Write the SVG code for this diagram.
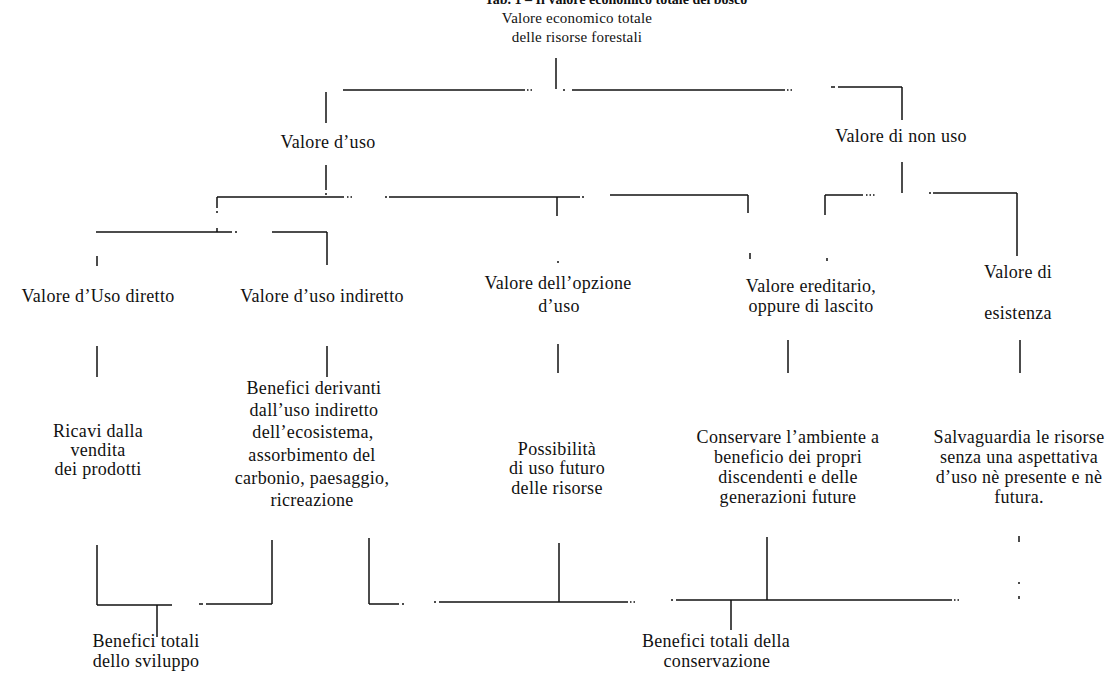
<svg xmlns="http://www.w3.org/2000/svg" width="1119" height="679" viewBox="0 0 1119 679">
<style>
text{font-family:"Liberation Serif","Times New Roman",serif;font-size:18px;letter-spacing:0.3px;fill:#111;text-anchor:middle}
.t{font-weight:bold;font-size:14px;letter-spacing:0}
.s{font-size:15px;letter-spacing:0.2px}
.c line{stroke:#111;stroke-width:1.5}
.c .d{stroke-dasharray:1.5 2}
</style>
<rect width="1119" height="679" fill="#fff"/>
<g id="caption"><text class="t" x="616" y="4">Tab. 1 – Il valore economico totale del bosco</text></g>
<g id="n-totale"><text class="s" x="577" y="23">Valore economico totale</text><text class="s" x="577" y="42">delle risorse forestali</text></g>
<g id="n-uso"><text x="328" y="148">Valore d’uso</text></g>
<g id="n-nonuso"><text x="901" y="142">Valore di non uso</text></g>
<g id="n-diretto"><text x="98" y="302">Valore d’Uso diretto</text></g>
<g id="n-indiretto"><text x="322" y="302">Valore d’uso indiretto</text></g>
<g id="n-opzione"><text x="558" y="289">Valore dell’opzione</text><text x="559" y="312">d’uso</text></g>
<g id="n-ereditario"><text x="811" y="292">Valore ereditario,</text><text x="811" y="312">oppure di lascito</text></g>
<g id="n-esistenza"><text x="1018" y="278">Valore di</text><text x="1018" y="319">esistenza</text></g>
<g id="n-ricavi"><text x="98" y="437">Ricavi dalla</text><text x="98" y="456">vendita</text><text x="98" y="475">dei prodotti</text></g>
<g id="n-benefici-ind"><text x="314" y="394">Benefici derivanti</text><text x="314" y="416">dall’uso indiretto</text><text x="313" y="438">dell’ecosistema,</text><text x="312" y="461">assorbimento del</text><text x="312" y="484">carbonio, paesaggio,</text><text x="312" y="506">ricreazione</text></g>
<g id="n-possibilita"><text x="557" y="455">Possibilità</text><text x="557" y="474">di uso futuro</text><text x="557" y="494">delle risorse</text></g>
<g id="n-conservare"><text x="788" y="443">Conservare l’ambiente a</text><text x="788" y="463">beneficio dei propri</text><text x="788" y="483">discendenti e delle</text><text x="788" y="503">generazioni future</text></g>
<g id="n-salvaguardia"><text x="1019" y="443">Salvaguardia le risorse</text><text x="1019" y="463">senza una aspettativa</text><text x="1019" y="483">d’uso nè presente e nè</text><text x="1019" y="503">futura.</text></g>
<g id="n-sviluppo"><text x="146" y="647">Benefici totali</text><text x="146" y="667">dello sviluppo</text></g>
<g id="n-conservazione"><text x="716" y="647">Benefici totali della</text><text x="717" y="667">conservazione</text></g>
<g id="connectors" class="c">
<line x1="556" y1="58" x2="556" y2="89"/>
<line x1="343" y1="90" x2="525" y2="90"/>
<line class="d" x1="527" y1="90" x2="534" y2="90"/>
<line x1="563" y1="90" x2="565" y2="90"/>
<line x1="572" y1="90" x2="785" y2="90"/>
<line class="d" x1="787" y1="90" x2="793" y2="90"/>
<line x1="831" y1="87" x2="835" y2="87"/>
<line x1="838" y1="87" x2="902" y2="87"/>
<line x1="902" y1="87" x2="902" y2="120"/>
<line x1="326" y1="92" x2="326" y2="123"/>
<line x1="326" y1="165" x2="326" y2="190"/>
<line x1="326" y1="193" x2="326" y2="195"/>
<line x1="217" y1="197" x2="344" y2="197"/>
<line class="d" x1="347" y1="197" x2="353" y2="197"/>
<line x1="217" y1="197" x2="217" y2="208"/>
<line x1="217" y1="211" x2="217" y2="213"/>
<line x1="385" y1="197" x2="387" y2="197"/>
<line x1="389" y1="197" x2="580" y2="197"/>
<line x1="582" y1="197" x2="584" y2="197"/>
<line x1="557" y1="197" x2="557" y2="216"/>
<line x1="610" y1="195" x2="748" y2="195"/>
<line x1="748" y1="195" x2="748" y2="213"/>
<line x1="902" y1="162" x2="902" y2="193"/>
<line x1="825" y1="195" x2="863" y2="195"/>
<line class="d" x1="866" y1="195" x2="876" y2="195"/>
<line x1="825" y1="195" x2="825" y2="215"/>
<line x1="929" y1="193" x2="931" y2="193"/>
<line x1="933" y1="193" x2="1017" y2="193"/>
<line x1="1017" y1="193" x2="1017" y2="256"/>
<line x1="96" y1="232" x2="232" y2="232"/>
<line x1="235" y1="232" x2="237" y2="232"/>
<line x1="217" y1="228" x2="217" y2="232"/>
<line x1="272" y1="232" x2="327" y2="232"/>
<line x1="327" y1="232" x2="327" y2="265"/>
<line x1="97" y1="256" x2="97" y2="266"/>
<line x1="558" y1="261" x2="558" y2="263"/>
<line x1="750" y1="253" x2="750" y2="259"/>
<line x1="827" y1="258" x2="827" y2="261"/>
<line x1="97" y1="346" x2="97" y2="377"/>
<line x1="327" y1="346" x2="327" y2="377"/>
<line x1="558" y1="344" x2="558" y2="373"/>
<line x1="788" y1="340" x2="788" y2="373"/>
<line x1="1020" y1="340" x2="1020" y2="373"/>
<line x1="97" y1="545" x2="97" y2="605"/>
<line x1="97" y1="605" x2="172" y2="605"/>
<line x1="157" y1="605" x2="157" y2="637"/>
<line x1="199" y1="604" x2="203" y2="604"/>
<line x1="206" y1="604" x2="272" y2="604"/>
<line x1="272" y1="540" x2="272" y2="604"/>
<line x1="369" y1="538" x2="369" y2="604"/>
<line x1="369" y1="604" x2="399" y2="604"/>
<line x1="402" y1="604" x2="404" y2="604"/>
<line x1="434" y1="602" x2="436" y2="602"/>
<line x1="439" y1="602" x2="628" y2="602"/>
<line class="d" x1="630" y1="602" x2="637" y2="602"/>
<line x1="559" y1="543" x2="559" y2="602"/>
<line x1="671" y1="600" x2="673" y2="600"/>
<line x1="676" y1="600" x2="952" y2="600"/>
<line class="d" x1="954" y1="600" x2="960" y2="600"/>
<line x1="767" y1="537" x2="767" y2="600"/>
<line x1="731" y1="600" x2="731" y2="630"/>
<line x1="1019" y1="536" x2="1019" y2="542"/>
<line x1="1019" y1="582" x2="1019" y2="584"/>
<line x1="1019" y1="596" x2="1019" y2="599"/>
</g>
</svg>
